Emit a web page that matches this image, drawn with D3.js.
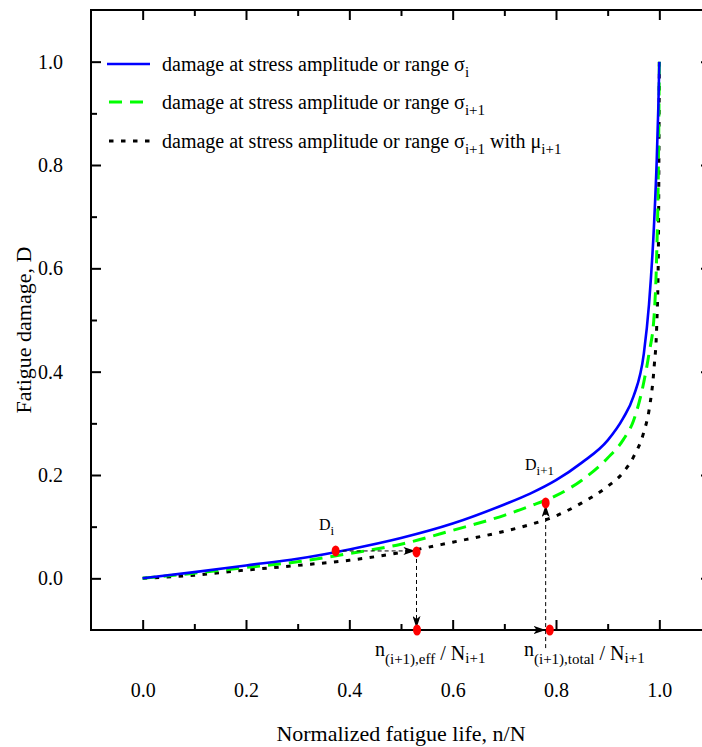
<!DOCTYPE html>
<html><head><meta charset="utf-8">
<script src="https://cdn.jsdelivr.net/npm/d3@7"></script>
<style>body{margin:0;background:#fff} text{font-family:'Liberation Serif','Times New Roman',Times,'DejaVu Serif',serif !important;}</style>
</head><body><svg id="c" width="702" height="747"></svg>
<script>
// ---- data ----
const lifeRatio      = [0,0.1,0.2,0.3,0.4,0.5,0.6,0.7,0.75,0.8,0.85,0.9,0.93,0.95,0.97,0.98,0.99,0.995,0.998,1.0];
const damageSigmaI   = [0,0.012,0.025,0.038,0.056,0.078,0.106,0.143,0.164,0.190,0.224,0.267,0.310,0.352,0.435,0.530,0.69,0.81,0.91,1.0];
const damageSigmaI1  = [0,0.010,0.021,0.032,0.048,0.066,0.093,0.122,0.140,0.160,0.190,0.233,0.268,0.305,0.380,0.435,0.510,0.63,0.78,1.0];
const damageSigmaI1Mu= [0,0.006,0.016,0.025,0.035,0.050,0.070,0.091,0.104,0.121,0.146,0.178,0.205,0.235,0.283,0.325,0.41,0.49,0.62,1.0];

const markerX = [0.3735, 0.530, 0.531, 0.788, 0.780];
const markerD = [0.053, 0.051, -0.1, -0.1, 0.146];

const arrowFromX = [0.3735, 0.530, 0.531, 0.780];
const arrowFromD = [0.053, 0.051, -0.1, -0.135];
const arrowToX   = [0.528, 0.530, 0.780, 0.780];
const arrowToD   = [0.053, -0.096, -0.1, 0.142];
const arrowDashed= [true, true, false, true];

const xMajor = [0,0.2,0.4,0.6,0.8,1.0];
const xMinor = [0.1,0.3,0.5,0.7,0.9];
const yMajor = [0,0.2,0.4,0.6,0.8,1.0];
const yMinor = [0.1,0.3,0.5,0.7,0.9];

const legendLabels = ["i", "i+1", "i+1"];

// ---- chart ----
const FONT = "'Liberation Serif','Times New Roman',Times,'DejaVu Serif',serif";
const svg = d3.select("#c").attr("font-family", FONT);
const x = d3.scaleLinear().domain([-0.1,1.1]).range([91,711]);
const y = d3.scaleLinear().domain([-0.1,1.1]).range([630,10]);

const defs = svg.append("defs");
defs.append("marker").attr("id","ah").attr("viewBox","0 0 12 8").attr("refX",12).attr("refY",4)
  .attr("markerWidth",12).attr("markerHeight",8).attr("markerUnits","userSpaceOnUse").attr("orient","auto")
  .append("path").attr("d","M0,0L12,4L0,8L3,4Z").attr("fill","#000");

const line = d3.line().x((d,i)=>x(lifeRatio[i])).y(d=>y(d)).curve(d3.curveMonotoneX);

svg.append("path").attr("d",line(damageSigmaI1Mu)).attr("fill","none").attr("stroke","#000")
  .attr("stroke-width",3).attr("stroke-dasharray","4.5,7.5");
svg.append("path").attr("d",line(damageSigmaI1)).attr("fill","none").attr("stroke","#00ff00")
  .attr("stroke-width",3).attr("stroke-dasharray","13,8");
svg.append("path").attr("d",line(damageSigmaI)).attr("fill","none").attr("stroke","#0000ff")
  .attr("stroke-width",2.6);

// axes
function noDomain(g){ g.select(".domain").remove(); g.attr("font-family", FONT); }
svg.append("g").attr("transform","translate(0,630)").call(d3.axisTop(x).tickValues(xMajor).tickSize(10).tickFormat("")).call(noDomain);
svg.append("g").attr("transform","translate(0,630)").call(d3.axisTop(x).tickValues(xMinor).tickSize(6).tickFormat("")).call(noDomain);
svg.append("g").attr("transform","translate(0,10)").call(d3.axisBottom(x).tickValues(xMajor).tickSize(10).tickFormat("")).call(noDomain);
svg.append("g").attr("transform","translate(0,10)").call(d3.axisBottom(x).tickValues(xMinor).tickSize(6).tickFormat("")).call(noDomain);
svg.append("g").attr("transform","translate(91,0)").call(d3.axisRight(y).tickValues(yMajor).tickSize(10).tickFormat("")).call(noDomain);
svg.append("g").attr("transform","translate(91,0)").call(d3.axisRight(y).tickValues(yMinor).tickSize(6).tickFormat("")).call(noDomain);
svg.append("g").attr("transform","translate(711,0)").call(d3.axisLeft(y).tickValues(yMajor).tickSize(10).tickFormat("")).call(noDomain);
svg.append("g").attr("transform","translate(711,0)").call(d3.axisLeft(y).tickValues(yMinor).tickSize(6).tickFormat("")).call(noDomain);
svg.selectAll(".tick line").attr("stroke","#000").attr("stroke-width",2);

const xl = svg.append("g").attr("transform","translate(0,683)")
  .call(d3.axisBottom(x).tickValues(xMajor).tickSize(0).tickPadding(0).tickFormat(d3.format(".1f"))).call(noDomain);
xl.selectAll("text").attr("font-size",20).attr("fill","#000");
const yl = svg.append("g").attr("transform","translate(63,0)")
  .call(d3.axisLeft(y).tickValues(yMajor).tickSize(0).tickPadding(0).tickFormat(d3.format(".1f"))).call(noDomain);
yl.selectAll("text").attr("font-size",20).attr("fill","#000");
svg.selectAll("g").attr("font-size",20);

svg.append("rect").attr("x",91).attr("y",10).attr("width",620).attr("height",620)
  .attr("fill","none").attr("stroke","#000").attr("stroke-width",2);

// axis titles
svg.append("text").attr("transform","translate(31,330) rotate(-90)").attr("text-anchor","middle")
  .attr("font-size",22).text("Fatigue damage, D");
svg.append("text").attr("x",401).attr("y",741).attr("text-anchor","middle")
  .attr("font-size",22).text("Normalized fatigue life, n/N");

// arrows
arrowFromX.forEach((v,i)=>{
  svg.append("line").attr("x1",x(v)).attr("y1",y(arrowFromD[i])).attr("x2",x(arrowToX[i])).attr("y2",y(arrowToD[i]))
    .attr("stroke","#000").attr("stroke-width",arrowDashed[i]?1:1.5)
    .attr("stroke-dasharray",arrowDashed[i]?"4,3":null).attr("marker-end","url(#ah)");
});

// points
svg.selectAll("ellipse.pt").data(markerX).enter().append("ellipse").attr("class","pt")
  .attr("cx",d=>x(d)).attr("cy",(d,i)=>y(markerD[i])).attr("rx",4).attr("ry",5.5).attr("fill","#ff0000");

// point labels
const di = svg.append("text").attr("x",319).attr("y",530).attr("font-size",16);
di.append("tspan").text("D");
di.append("tspan").attr("font-size",13).attr("dy",5).text("i");
const di1 = svg.append("text").attr("x",525).attr("y",470).attr("font-size",16);
di1.append("tspan").text("D");
di1.append("tspan").attr("font-size",13).attr("dy",5).text("i+1");

function nLabel(x0, sub){
  const t = svg.append("text").attr("x",x0).attr("y",656).attr("font-size",20);
  t.append("tspan").text("n");
  t.append("tspan").attr("font-size",15).attr("dy",8).text(sub);
  t.append("tspan").attr("dy",-4).text(" / N");
  t.append("tspan").attr("font-size",15).attr("dy",3).text("i+1");
}
nLabel(375, "(i+1),eff");
nLabel(524, "(i+1),total");

// legend
const legY = [64, 102, 141];
const lg = svg.append("g");
lg.append("line").attr("x1",107).attr("x2",150).attr("y1",legY[0]).attr("y2",legY[0]).attr("stroke","#0000ff").attr("stroke-width",2.6);
lg.append("line").attr("x1",109).attr("x2",149).attr("y1",legY[1]).attr("y2",legY[1]).attr("stroke","#00ff00").attr("stroke-width",3).attr("stroke-dasharray","13,8");
lg.append("line").attr("x1",109).attr("x2",152).attr("y1",legY[2]).attr("y2",legY[2]).attr("stroke","#000").attr("stroke-width",3).attr("stroke-dasharray","4.5,7.5");
legendLabels.forEach((s,i)=>{
  const t = lg.append("text").attr("x",162).attr("y",legY[i]+7).attr("font-size",20);
  t.append("tspan").text("damage at stress amplitude or range σ");
  t.append("tspan").attr("font-size",15).attr("dy",6).text(s);
  if(i===2){
    t.append("tspan").attr("dy",-6).text(" with μ");
    t.append("tspan").attr("font-size",15).attr("dy",6).text("i+1");
  }
});
</script></body></html>
